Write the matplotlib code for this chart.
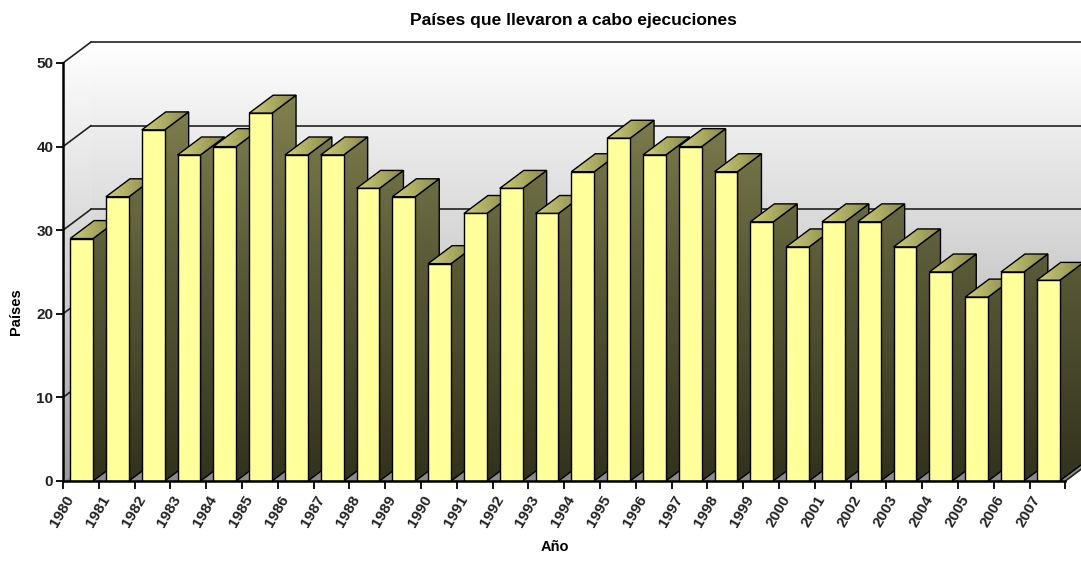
import numpy as np
import matplotlib
matplotlib.use("Agg")
import matplotlib.pyplot as plt
from matplotlib.patches import Polygon
from matplotlib.colors import LinearSegmentedColormap

# datos
years = [str(y) for y in range(1980, 2008)]
paises = [29, 34, 42, 39, 40, 44, 39, 39, 35, 34, 26, 32, 35, 32,
          37, 41, 39, 40, 37, 31, 28, 31, 31, 28, 25, 22, 25, 24]
yticks = [0, 10, 20, 30, 40, 50]

title = "Países que llevaron a cabo ejecuciones"
xlabel = "Año"
ylabel = "Países"

# 3d look (in data units)
WX, WY = 0.78, 2.5     # wall depth
BX, BY = 0.67, 2.15    # bar depth
B0, B1 = 0.20, 0.84    # bar front left/right inside each slot
YMAX = 50

plt.rcParams['font.family'] = ['Liberation Sans', 'DejaVu Sans']

wall_cmap = LinearSegmentedColormap.from_list('wall', ['#9a9a9a', '#c4c4c4', '#e2e2e2', '#ffffff'])
side_cmap = LinearSegmentedColormap.from_list('side', ['#32321d', '#5a5a38', '#8c8c56'])
top_cmap = LinearSegmentedColormap.from_list('top', ['#cccc7c', '#8a8a48'])


def grad_poly(ax, verts, cmap, extent, vertical=True, z=1, lw=1.0, ec='black'):
    poly = Polygon(verts, closed=True, facecolor='none', edgecolor=ec,
                   lw=lw, zorder=z + 0.1, joinstyle='miter')
    ax.add_patch(poly)
    if vertical:
        data = np.linspace(0, 1, 256).reshape(-1, 1)
    else:
        data = np.linspace(0, 1, 256).reshape(1, -1)
    im = ax.imshow(data, cmap=cmap, extent=extent, origin='lower',
                   aspect='auto', zorder=z, interpolation='bilinear')
    im.set_clip_path(poly)
    return poly


W, H = 1081, 563
fig = plt.figure(figsize=(W / 100, H / 100), dpi=100)
px_x = 35.8
px_y = 8.36
left, bottom = 63, 82
xmax = (W - left) / px_x
ytop = 53.2
ax = fig.add_axes([left / W, bottom / H, (W - left) / W, ytop * px_y / H])

n = len(paises)

# back wall
xr = xmax + 1
grad_poly(ax, [(WX, WY), (xr, WY), (xr, YMAX + WY), (WX, YMAX + WY)],
          wall_cmap, (WX, xr, WY, YMAX + WY), z=1, lw=0, ec='none')
# left wall
grad_poly(ax, [(0, 0), (WX, WY), (WX, YMAX + WY), (0, YMAX)],
          wall_cmap, (0, WX, 0, YMAX + WY), z=1, lw=0, ec='none')
# floor
ax.add_patch(Polygon([(0, 0), (n, 0), (n + WX, WY), (WX, WY)], closed=True,
                     facecolor='#8c8c8c', edgecolor='none', zorder=1))

# grid lines on walls
for v in yticks[1:]:
    ax.plot([WX, xr], [v + WY, v + WY], color='#222222', lw=1.2, zorder=2, clip_on=False)
    ax.plot([0, WX], [v, v + WY], color='#222222', lw=1.2, zorder=2, clip_on=False)
ax.plot([n, n + WX], [0, WY], color='#222222', lw=1.2, zorder=2, clip_on=False)

# bars, left to right so next front hides previous side
for i, v in enumerate(paises):
    x0, x1 = i + B0, i + B1
    z = 10 + 3 * i
    grad_poly(ax, [(x1, 0), (x1 + BX, BY), (x1 + BX, v + BY), (x1, v)],
              side_cmap, (x1, x1 + BX, 0, YMAX + BY), z=z)
    grad_poly(ax, [(x0, v), (x1, v), (x1 + BX, v + BY), (x0 + BX, v + BY)],
              top_cmap, (x0, x1 + BX, v, v + BY), vertical=False, z=z + 1)
    ax.add_patch(Polygon([(x0, 0), (x1, 0), (x1, v), (x0, v)], closed=True,
                         facecolor='#ffff9c', edgecolor='black', lw=1.0,
                         zorder=z + 2, joinstyle='miter'))

ax.set_xlim(0, xmax)
ax.set_ylim(0, ytop)
ax.set_facecolor('none')

for s in ['top', 'right']:
    ax.spines[s].set_visible(False)
ax.spines['left'].set_bounds(0, YMAX)
ax.spines['bottom'].set_bounds(0, n)
for s in ['left', 'bottom']:
    ax.spines[s].set_linewidth(1.8)
    ax.spines[s].set_zorder(200)

ax.set_yticks(yticks)
ax.set_yticklabels([str(v) for v in yticks], fontsize=11, fontweight='bold', color='#222222')
ax.tick_params(axis='y', length=5, width=1.3, pad=2)

ax.set_xticks(np.arange(n + 1))
ax.set_xticklabels([''] * (n + 1))
ax.tick_params(axis='x', which='major', length=6, width=1.3)
ax.set_xticks(np.arange(n) + 0.38, minor=True)
ax.set_xticklabels(years, minor=True, rotation=60, ha='right', va='top',
                   fontsize=11, fontweight='bold', color='#222222')
ax.tick_params(axis='x', which='minor', length=0, pad=9)

fig.text(573 / W, 1 - 20 / H, title, ha='center', va='center', fontsize=12.5, fontweight='bold')
fig.text(555 / W, 1 - 547 / H, xlabel, ha='center', va='center', fontsize=10.5, fontweight='bold')
fig.text(16 / W, 1 - 312 / H, ylabel, ha='center', va='center', rotation=90,
         fontsize=10.5, fontweight='bold')

fig.savefig('out.png', dpi=100)
